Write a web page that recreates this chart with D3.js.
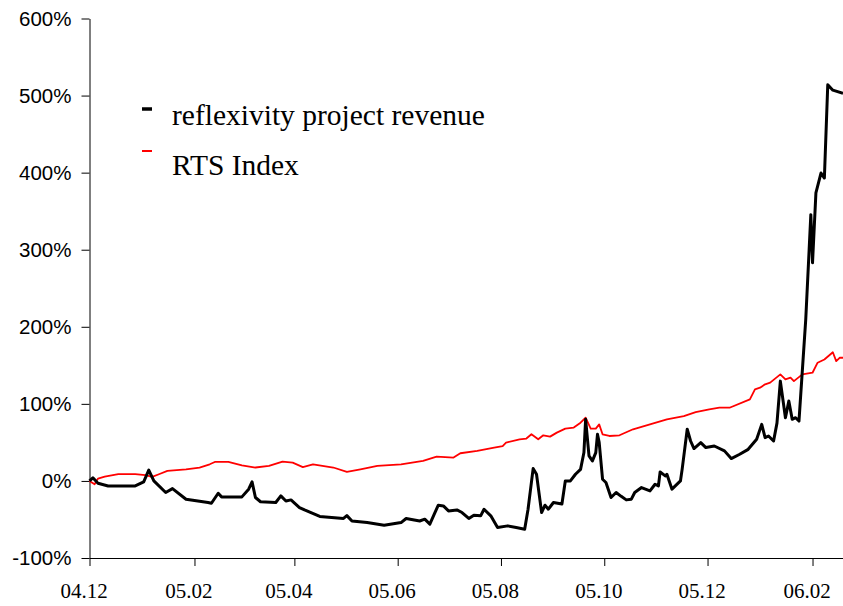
<!DOCTYPE html>
<html>
<head>
<meta charset="utf-8">
<script src="https://cdn.jsdelivr.net/npm/d3@7"></script>
<style>
  html, body { margin: 0; padding: 0; background: #fff; }
  svg { display: block; }
</style>
</head>
<body>
<svg class="chart" width="843" height="606"></svg>
<script>
// ---- Data (values in %) ----
const revDates = [
  "2004-12-01","2004-12-03","2004-12-06","2004-12-12","2004-12-28","2005-01-02","2005-01-05","2005-01-08",
  "2005-01-15","2005-01-19","2005-01-27","2005-02-09","2005-02-11","2005-02-15","2005-02-17","2005-03-01",
  "2005-03-05","2005-03-07","2005-03-09","2005-03-12","2005-03-21","2005-03-24","2005-03-27","2005-03-30",
  "2005-04-04","2005-04-07","2005-04-16","2005-04-30","2005-05-02","2005-05-05","2005-05-14","2005-05-24",
  "2005-06-03","2005-06-06","2005-06-14","2005-06-17","2005-06-20","2005-06-23","2005-06-25","2005-06-28",
  "2005-07-01","2005-07-06","2005-07-09","2005-07-13","2005-07-16","2005-07-20","2005-07-22","2005-07-26",
  "2005-07-30","2005-08-05","2005-08-10","2005-08-15","2005-08-17","2005-08-20","2005-08-22","2005-08-25",
  "2005-08-27","2005-08-29","2005-09-01","2005-09-06","2005-09-08","2005-09-11","2005-09-14","2005-09-17",
  "2005-09-19","2005-09-20","2005-09-22","2005-09-24","2005-09-26","2005-09-27","2005-09-28","2005-09-30",
  "2005-10-02","2005-10-05","2005-10-08","2005-10-11","2005-10-14","2005-10-17","2005-10-19","2005-10-23",
  "2005-10-28","2005-10-31","2005-11-02","2005-11-03","2005-11-06","2005-11-07","2005-11-10","2005-11-15",
  "2005-11-16","2005-11-19","2005-11-21","2005-11-23","2005-11-27","2005-11-30","2005-12-05","2005-12-11",
  "2005-12-15","2005-12-20","2005-12-25","2005-12-30","2006-01-02","2006-01-04","2006-01-06","2006-01-09",
  "2006-01-11","2006-01-13","2006-01-16","2006-01-18","2006-01-20","2006-01-22","2006-01-24","2006-01-28",
  "2006-01-30","2006-01-31","2006-02-01","2006-02-03","2006-02-06","2006-02-08","2006-02-10","2006-02-13",
  "2006-02-19"
];
const revValues = [
  0, 4, -3, -6.5, -6.5, -1.3, 14, 0,
  -15, -10, -23.7, -28, -29, -16, -20.7, -20.7,
  -10.7, -1.3, -21.5, -27, -28, -19.4, -26, -24.6,
  -34.5, -37.6, -46, -48.7, -45, -52, -54, -57.4,
  -54, -48.7, -52, -49.6, -56, -41, -31.5, -32.4,
  -38.9, -37.6, -41, -48.7, -44.4, -45.3, -36.7, -45.3,
  -60.4, -58.3, -60.4, -62.6, -36.7, 16, 8.7, -41,
  -31.5, -36.7, -28, -30, 0, 0, 8.7, 15,
  36.8, 80, 32.4, 26, 36.8, 60.5, 50, 2.2,
  -2, -21.5, -15, -20, -24.6, -23.7, -15, -8.6,
  -13, -4.3, -6.5, 11.7, 6.5, 8.7, -10.7, 0,
  15, 67, 51.8, 42, 49.7, 43.3, 45.3, 39,
  29, 34.6, 41, 54, 73.4, 56.2, 58.3, 51.8,
  75, 129.5, 82, 103.6, 80, 82, 77.7, 209.5,
  300, 345.5, 283, 373.6, 399.5, 393, 514, 507,
  503
];

const rtsDates = [
  "2004-12-01","2004-12-04","2004-12-06","2004-12-10","2004-12-18","2004-12-28","2005-01-03","2005-01-07",
  "2005-01-11","2005-01-16","2005-01-27","2005-02-04","2005-02-10","2005-02-13","2005-02-21","2005-03-01",
  "2005-03-09","2005-03-17","2005-03-25","2005-03-31","2005-04-06","2005-04-12","2005-04-24","2005-05-02",
  "2005-05-10","2005-05-20","2005-06-03","2005-06-16","2005-06-24","2005-07-04","2005-07-08","2005-07-18",
  "2005-07-28","2005-08-02","2005-08-04","2005-08-12","2005-08-16","2005-08-19","2005-08-23","2005-08-26",
  "2005-08-30","2005-09-03","2005-09-08","2005-09-13","2005-09-17","2005-09-20","2005-09-23","2005-09-26",
  "2005-09-28","2005-09-30","2005-10-04","2005-10-10","2005-10-18","2005-10-28","2005-11-07","2005-11-17",
  "2005-11-24","2005-12-02","2005-12-08","2005-12-14","2005-12-26","2005-12-29","2006-01-01","2006-01-04",
  "2006-01-07","2006-01-13","2006-01-16","2006-01-19","2006-01-21","2006-01-26","2006-02-01","2006-02-04",
  "2006-02-08","2006-02-13","2006-02-15","2006-02-17","2006-02-19"
];
const rtsValues = [
  0, -4.3, 3, 5.7, 8.7, 8.7, 7.4, 5.2,
  8.7, 13, 15, 17.4, 21.6, 24.6, 24.6, 20.3,
  17.4, 19.4, 25, 23.8, 18, 21.6, 17.4, 11.7,
  15, 19.4, 21.6, 26, 31.6, 30.3, 35.9, 38.9,
  43.3, 45.3, 49.7, 54, 55, 60.5, 54, 59.2,
  57.5, 62.7, 67.9, 69.2, 75.6, 82, 67.9, 67.9,
  73.4, 60.5, 58.3, 59.2, 67, 73.4, 80, 84.2,
  89.4, 92.9, 95, 95, 105.8, 118.8, 121, 125.3,
  127.5, 138.2, 131.7, 134, 129.5, 138.2, 140.4, 153.4,
  157.6, 167, 155.4, 159.8, 159.8
];

const xTickDates = ["2004-12-01","2005-02-01","2005-04-01","2005-06-01","2005-08-01","2005-10-01","2005-12-01","2006-02-01"];
const yTicks = [-100, 0, 100, 200, 300, 400, 500, 600];
const seriesNames = ["reflexivity project revenue", "RTS Index"];
const seriesColors = ["#000000", "#ff0000"];

// ---- Scales ----
const parse = d3.utcParse("%Y-%m-%d");
const plotLeft = 89.5, plotRight = 843, plotTop = 18.5, plotBottom = 558;

const x = d3.scaleUtc()
    .domain([parse("2004-12-01"), parse("2006-02-19")])
    .range([plotLeft, plotRight]);
const y = d3.scaleLinear()
    .domain([-100, 600])
    .range([plotBottom, plotTop]);

const svg = d3.select("svg.chart");

// ---- Axes ----
const yAxis = svg.append("g")
    .attr("transform", `translate(${plotLeft},0)`)
    .call(d3.axisLeft(y)
        .tickValues(yTicks)
        .tickSizeInner(8)
        .tickSizeOuter(0)
        .tickPadding(10)
        .tickFormat(d => d + "%"));
yAxis.selectAll("text")
    .attr("font-family", "'Liberation Sans', Arial, sans-serif")
    .attr("font-size", 20.5)
    .attr("fill", "#000");

const xAxis = svg.append("g")
    .attr("transform", `translate(0,${plotBottom})`)
    .call(d3.axisBottom(x)
        .tickValues(xTickDates.map(parse))
        .tickSizeInner(8)
        .tickSizeOuter(0)
        .tickPadding(17)
        .tickFormat(d3.utcFormat("%y.%m")));
xAxis.selectAll("text")
    .attr("font-family", "'Liberation Serif', 'Times New Roman', serif")
    .attr("font-size", 21)
    .attr("dx", -6)
    .attr("fill", "#000");

svg.selectAll(".domain, .tick line")
    .attr("stroke", "#000")
    .attr("stroke-width", 1);

// ---- Lines ----
const line = d3.line()
    .x(d => x(d[0]))
    .y(d => y(d[1]));

const rts = rtsDates.map((d, i) => [parse(d), rtsValues[i]]);
const rev = revDates.map((d, i) => [parse(d), revValues[i]]);

svg.append("path")
    .datum(rts)
    .attr("fill", "none")
    .attr("stroke", seriesColors[1])
    .attr("stroke-width", 1.8)
    .attr("stroke-linejoin", "round")
    .attr("d", line);

svg.append("path")
    .datum(rev)
    .attr("fill", "none")
    .attr("stroke", seriesColors[0])
    .attr("stroke-width", 3)
    .attr("stroke-linejoin", "round")
    .attr("d", line);

// ---- Legend ----
const legend = svg.append("g");
const items = legend.selectAll("g")
    .data(seriesNames)
    .join("g")
    .attr("transform", (d, i) => `translate(142,${109 + i * 42})`);
items.append("line")
    .attr("x1", 0).attr("x2", 10)
    .attr("stroke", (d, i) => seriesColors[i])
    .attr("stroke-width", (d, i) => i == 0 ? 3.5 : 2);
items.append("text")
    .attr("x", 30)
    .attr("y", (d, i) => i == 0 ? 16 : 24)
    .attr("font-family", "'Liberation Serif', 'Times New Roman', serif")
    .attr("font-size", 29.5)
    .attr("fill", "#000")
    .text(d => d);
</script>
</body>
</html>
